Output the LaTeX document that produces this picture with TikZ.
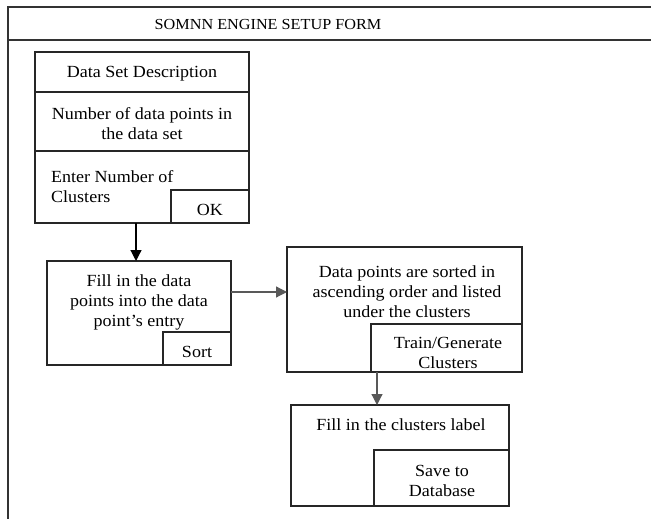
\documentclass[tikz,border=0pt]{standalone}
\usepackage{fontspec}
\setmainfont{Liberation Serif}[FakeStretch=1.06]
\usetikzlibrary{arrows.meta,calc}

\begin{document}
\begin{tikzpicture}[x=1pt,y=-1pt,
  frame/.style={line width=1.3pt, draw=black!80},
  box/.style={draw=black!85, line width=1.2pt, anchor=north west,
              inner sep=0pt, outer sep=0pt},
  txt/.style={font=\fontsize{17}{20}\selectfont, align=center, inner sep=0pt},
  ttl/.style={font=\fontsize{15.3}{18}\selectfont, inner sep=0pt},
  arr/.style={line width=1.2pt, -{Triangle[length=11pt,width=11pt]}}]

\useasboundingbox (0,0) rectangle (651,519);

% form frame and title bar
\draw[frame] (651,7) -- (8,7) -- (8,519);
\draw[frame] (8,40) -- (651,40);
\node[ttl] (title) at (268,25) {SOMNN ENGINE SETUP FORM};

% data set panel
\node[box, minimum width=214pt, minimum height=40pt] (b1a) at (35,52) {};
\node[box, minimum width=214pt, minimum height=59pt] (b1b) at (35,92) {};
\node[box, minimum width=214pt, minimum height=72pt] (b1c) at (35,151) {};
\node[box, minimum width=78pt, minimum height=33pt] (ok) at (171,190) {};
\node[txt] (t1a) at (142,74) {Data Set Description};
\node[txt] (t1b) at (142,124) {Number of data points in\\the data set};
\node[txt, align=left, anchor=west] (t1c) at (51,187) {Enter Number of\\Clusters};
\node[txt] (tok) at (210,210) {OK};

% data point entry panel
\node[box, minimum width=184pt, minimum height=104pt] (b2) at (47,261) {};
\node[box, minimum width=68pt, minimum height=33pt] (sort) at (163,332) {};
\node[txt] (t2) at (139,302) {Fill in the data\\points into the data\\point’s entry};
\node[txt] (tsort) at (197,352) {Sort};

% sorted data panel
\node[box, minimum width=235pt, minimum height=125pt] (b3) at (287,247) {};
\node[box, minimum width=151pt, minimum height=48pt] (train) at (371,324) {};
\node[txt] (t3) at (407,292) {Data points are sorted in\\ascending order and listed\\under the clusters};
\node[txt] (ttrain) at (448,353) {Train/Generate\\Clusters};

% cluster label panel
\node[box, minimum width=218pt, minimum height=101pt] (b4) at (291,405) {};
\node[box, minimum width=135pt, minimum height=56pt] (save) at (374,450) {};
\node[txt] (t4) at (401,425) {Fill in the clusters label};
\node[txt] (tsave) at (442,481) {Save to\\Database};

% flow between panels
\coordinate (p1) at ($(b1c.south west)!0.472!(b1c.south east)$);
\draw[arr] (p1) -- (p1 |- b2.north);
\coordinate (p2) at ($(b2.north east)!0.298!(b2.south east)$);
\draw[arr, draw=black!65] (p2) -- (p2 -| b3.west);
\coordinate (p3) at ([xshift=6pt]train.south west);
\draw[arr, draw=black!65] (p3) -- (p3 |- b4.north);
\end{tikzpicture}
\end{document}
